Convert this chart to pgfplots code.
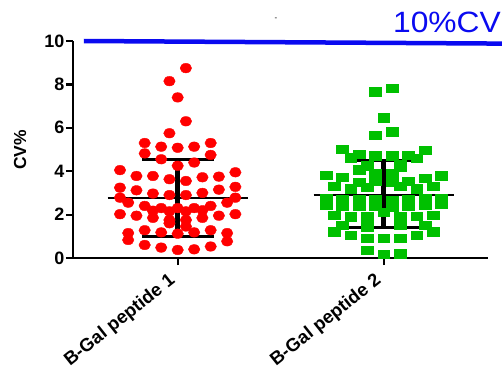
\documentclass[border=0pt]{standalone}
\usepackage{pgfplots}
\pgfplotsset{compat=1.18}
\usepackage{fontspec}
\usepackage{graphicx}
\setmainfont{Liberation Sans}
\definecolor{myred}{RGB}{255,0,0}
\definecolor{mygreen}{RGB}{0,192,0}
\definecolor{myblue}{RGB}{10,10,240}
\begin{document}
\begin{tikzpicture}
\begin{axis}[
  at={(0,0)}, anchor=south west,
  scale only axis, width=415bp, height=217bp,
  xmin=-0.508, xmax=1.506, ymin=0, ymax=10,
  axis lines*=left,
  axis line style={line width=2.3bp, black},
  every tick/.style={line width=2.2bp, black},
  major tick length=7bp,
  tick align=outside,
  xtick={0,1}, xticklabels={B-Gal peptide 1,B-Gal peptide 2},
  ytick={0,2,4,6,8,10},
  /pgf/number format/assume math mode=true,
  yticklabel style={font=\fontsize{18}{18}\selectfont\bfseries, inner sep=1.5bp},
  xticklabel style={font=\fontsize{18.5}{18.5}\selectfont\bfseries, xshift=-10bp, yshift=-5bp, rotate=38.5, anchor=north east, inner sep=1bp},
  clip=false,
]
% B-Gal peptide 1
\addplot[only marks, mark=*, mark size=4.8bp, color=myred, mark options={xscale=1.2, draw=myred, fill=myred}] table {
x y
0.04 8.75
-0.04 8.15
0 7.4
0.04 6.3
-0.04 5.75
-0.16 5.3
-0.08 5.13
0 5.08
0.08 5.13
0.16 5.3
-0.16 4.82
0.16 4.75
-0.08 4.55
0.08 4.4
0 4.25
-0.28 4.05
0.28 3.95
-0.2 3.78
-0.12 3.78
-0.04 3.63
0.04 3.55
0.12 3.72
0.2 3.75
-0.28 3.24
0.28 3.28
-0.2 3.12
-0.12 2.97
-0.04 2.9
0.04 2.9
0.12 3.0
0.2 3.15
-0.28 2.78
0.28 2.78
-0.24 2.55
-0.16 2.4
-0.08 2.3
0 2.3
0.08 2.3
0.16 2.4
0.24 2.55
-0.12 2.18
-0.04 2.15
0.04 2.15
0.12 2.2
-0.28 2.02
-0.2 1.95
-0.12 1.85
-0.04 1.75
0.04 1.75
0.12 1.85
0.2 1.95
0.28 2.02
-0.04 1.6
0.04 1.45
-0.24 1.15
-0.16 1.28
-0.08 1.18
0 1.12
0.08 1.18
0.16 1.28
0.24 1.15
-0.24 0.83
0.24 0.77
-0.16 0.6
-0.08 0.48
0 0.37
0.08 0.4
0.16 0.53
};
% B-Gal peptide 2
\addplot[only marks, mark=square*, mark size=4.2bp, color=mygreen, mark options={xscale=1.4, draw=mygreen, fill=mygreen}] table {
x y
0.96 7.67
1.04 7.82
1.0 6.47
0.96 5.67
1.04 5.82
0.8 5.02
1.2 4.98
0.88 4.79
0.96 4.71
1.04 4.71
1.12 4.75
0.84 4.62
1.16 4.59
0.92 4.25
1.08 4.3
0.88 4.06
1.08 4.2
0.72 3.82
0.8 3.72
1.2 3.67
1.28 3.8
0.96 3.9
1.04 3.9
0.96 3.55
1.04 3.5
1.12 3.55
0.88 3.5
0.76 3.3
0.84 3.2
0.92 3.25
1.08 3.3
1.16 3.2
1.24 3.3
0.72 2.75
0.8 2.7
0.88 2.7
0.96 2.7
1.04 2.65
1.12 2.7
1.2 2.75
1.28 2.75
0.72 2.45
0.8 2.4
0.88 2.4
0.96 2.4
1.04 2.35
1.12 2.4
1.2 2.45
1.28 2.5
1.0 2.1
0.76 1.98
0.84 1.9
0.92 1.9
1.08 1.9
1.16 1.92
1.24 1.98
0.8 1.52
1.2 1.52
0.92 1.45
1.08 1.5
0.76 1.21
0.84 1.06
0.92 0.9
1.0 0.9
1.08 0.9
1.16 1.06
1.24 1.21
0.92 0.37
1.0 0.18
1.08 0.2
};
% mean and SD, peptide 1
\addplot[black, line width=2bp] coordinates {(-0.34,2.75) (0.34,2.75)};
\addplot[black, line width=5bp] coordinates {(0,0.98) (0,4.55)};
\addplot[black, line width=3bp] coordinates {(-0.174,4.55) (0.174,4.55)};
\addplot[black, line width=3bp] coordinates {(-0.174,0.98) (0.174,0.98)};
% mean and SD, peptide 2
\addplot[black, line width=2bp] coordinates {(0.66,2.90) (1.34,2.90)};
\addplot[black, line width=5bp] coordinates {(1,1.40) (1,4.48)};
\addplot[black, line width=3bp] coordinates {(0.824,4.48) (1.176,4.48)};
\addplot[black, line width=3bp] coordinates {(0.824,1.40) (1.176,1.40)};
% 10% CV line
\addplot[myblue, line width=4.5bp] coordinates {(-0.455,10) (1.58,9.88)};
\end{axis}
\node[rotate=90, font=\fontsize{17.5}{17.5}\selectfont\bfseries] at (-53bp,108bp) {CV\%};
\node[anchor=base east, inner sep=0pt, text=myblue, font=\fontsize{29.5}{29.5}\selectfont] at (428bp,225bp) {\scalebox{1.08}[1]{10\%CV}};
\node[font=\fontsize{8}{8}\selectfont] at (203bp,239bp) {-};
\pgfresetboundingbox
\path (-73bp,-110bp) rectangle (429bp,258bp);
\end{tikzpicture}
\end{document}
